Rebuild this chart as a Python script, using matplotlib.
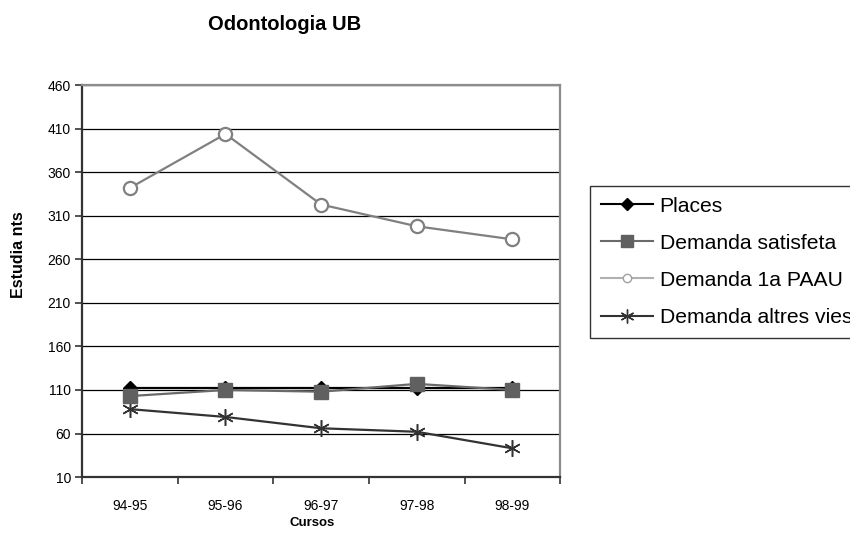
import matplotlib
matplotlib.use("Agg")
import matplotlib.pyplot as plt
from matplotlib.lines import Line2D

plt.rcParams['font.family'] = ['Liberation Sans', 'DejaVu Sans']

# Data
cursos = ["94-95", "95-96", "96-97", "97-98", "98-99"]
places = [112, 112, 112, 112, 112]
demanda_satisfeta = [103, 110, 108, 117, 110]
demanda_paau = [342, 404, 323, 298, 283]
demanda_altres = [88, 79, 66, 62, 43]
yticks = list(range(10, 461, 50))

fig = plt.figure(figsize=(8.5, 5.36), dpi=100)
ax = fig.add_axes([0.0965, 0.110, 0.5625, 0.731])

x = list(range(len(cursos)))
asterisk = (6, 2, 0)

ax.plot(x, places, color="black", lw=1.6, marker="D", ms=7,
        mfc="black", mec="black", zorder=4)
ax.plot(x, demanda_satisfeta, color="#6a6a6a", lw=1.6, marker="s", ms=9.5,
        mfc="#606060", mec="#606060", zorder=5)
ax.plot(x, demanda_paau, color="#808080", lw=1.6, marker="o", ms=9.5,
        mfc="white", mec="#808080", mew=1.6, zorder=4)
ax.plot(x, demanda_altres, color="#333333", lw=1.6, marker=asterisk, ms=12,
        mec="#333333", mew=1.1, zorder=4)

ax.set_ylim(10, 460)
ax.set_yticks(yticks)
ax.set_xlim(-0.5, len(cursos) - 0.5)
ax.set_xticks([i - 0.5 for i in range(len(cursos) + 1)])
ax.set_xticklabels([])
ax.set_xticks(x, minor=True)
ax.set_xticklabels(cursos, minor=True)
ax.tick_params(axis="x", which="major", direction="out", length=5, width=1.2, color="#333")
ax.tick_params(axis="x", which="minor", length=0, pad=16, labelsize=10)
ax.tick_params(axis="y", direction="out", length=5, width=1.2, color="#333", labelsize=10, pad=3)

ax.grid(axis="y", color="black", lw=0.9)
ax.set_axisbelow(True)

for side in ["left", "bottom"]:
    ax.spines[side].set_color("#333333")
    ax.spines[side].set_linewidth(1.6)
for side in ["top", "right"]:
    ax.spines[side].set_color("#8c8c8c")
    ax.spines[side].set_linewidth(1.6)

fig.text(285 / 850, 1 - 24 / 536, "Odontologia UB", ha="center", va="center",
         fontsize=14.5, fontweight="bold")
fig.text(19 / 850, 1 - 255 / 536, "Estudia nts", ha="center", va="center",
         rotation=90, fontsize=11.5, fontweight="bold")
fig.text(312 / 850, 1 - 523 / 536, "Cursos", ha="center", va="center",
         fontsize=9.5, fontweight="bold")

handles = [
    Line2D([], [], color="black", lw=1.5, marker="D", ms=6, mfc="black", mec="black"),
    Line2D([], [], color="#6a6a6a", lw=1.5, marker="s", ms=8, mfc="#606060", mec="#606060"),
    Line2D([], [], color="#b0b0b0", lw=1.5, marker="o", ms=6, mfc="white", mec="#a0a0a0"),
    Line2D([], [], color="#333333", lw=1.5, marker=asterisk, ms=10, mec="#333333", mew=1.0),
]
labels = ["Places", "Demanda satisfeta", "Demanda 1a PAAU", "Demanda altres vies"]
leg = fig.legend(handles, labels, loc="upper left", bbox_to_anchor=(590 / 850, 1 - 186 / 536),
                 bbox_transform=fig.transFigure, borderaxespad=0, fontsize=15.2,
                 frameon=True, fancybox=False, edgecolor="black", handlelength=2.5,
                 handletextpad=0.3, labelspacing=0.86, borderpad=0.5)
leg.get_frame().set_linewidth(1.0)

fig.savefig("out.png", dpi=100)
